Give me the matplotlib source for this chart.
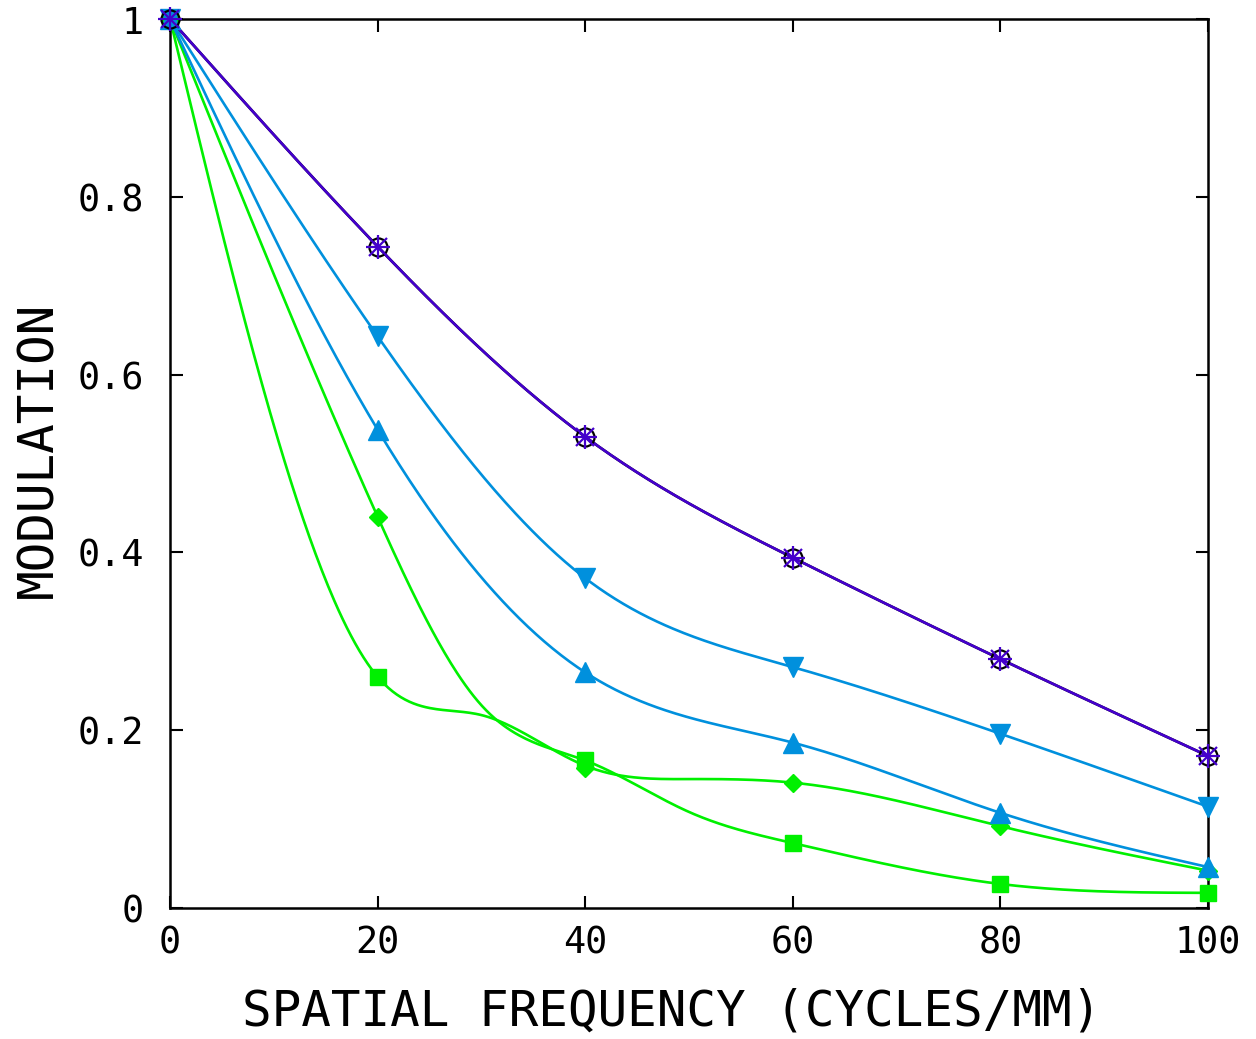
import numpy as np
import matplotlib
matplotlib.use("Agg")
import matplotlib.pyplot as plt

# spatial frequency (cycles/mm)
freq = [0, 20, 40, 60, 80, 100]

# modulation values
top_black = [1.0, 0.744, 0.530, 0.394, 0.280, 0.171]
top_purple = [1.0, 0.744, 0.530, 0.394, 0.280, 0.171]
blue_down = [1.0, 0.643, 0.371, 0.271, 0.196, 0.114]
blue_up = [1.0, 0.538, 0.265, 0.186, 0.107, 0.046]

# green markers
green_squares = [1.0, 0.260, 0.166, 0.073, 0.027, 0.017]
green_diamonds = [1.0, 0.440, 0.157, 0.141, 0.092, 0.042]

# the two green lines have extra knots between the marker positions
green_freq = [0, 20, 30, 40, 50, 60, 80, 100]
green_line_a = [1.0, 0.260, 0.217, 0.160, 0.145, 0.141, 0.092, 0.042]
green_line_b = [1.0, 0.440, 0.228, 0.166, 0.108, 0.073, 0.027, 0.017]

PURPLE = "#4400cc"
BLUE = "#0090dd"
GREEN = "#00f000"


def natural_spline(x, y, n=500):
    # natural cubic spline, same idea as gnuplot "smooth csplines"
    x = np.asarray(x, float)
    y = np.asarray(y, float)
    k = len(x)
    h = np.diff(x)
    A = np.zeros((k, k))
    b = np.zeros(k)
    A[0, 0] = 1
    A[-1, -1] = 1
    for i in range(1, k - 1):
        A[i, i - 1] = h[i - 1]
        A[i, i] = 2 * (h[i - 1] + h[i])
        A[i, i + 1] = h[i]
        b[i] = 6 * ((y[i + 1] - y[i]) / h[i] - (y[i] - y[i - 1]) / h[i - 1])
    m = np.linalg.solve(A, b)
    xs = np.linspace(x[0], x[-1], n)
    idx = np.clip(np.searchsorted(x, xs) - 1, 0, k - 2)
    x0, x1 = x[idx], x[idx + 1]
    hh = x1 - x0
    t0 = x1 - xs
    t1 = xs - x0
    ys = (m[idx] * t0 ** 3 + m[idx + 1] * t1 ** 3) / (6 * hh) \
        + (y[idx] / hh - m[idx] * hh / 6) * t0 \
        + (y[idx + 1] / hh - m[idx + 1] * hh / 6) * t1
    return xs, ys


plt.rcParams['font.family'] = ['DejaVu Sans Mono']

fig = plt.figure(figsize=(12.56, 10.39), dpi=100)
ax = fig.add_axes([0.1354, 0.1261, 0.8264, 0.8556])

lw = 1.9
for fx, vals, col in [(green_freq, green_line_a, GREEN),
                      (green_freq, green_line_b, GREEN),
                      (freq, blue_up, BLUE), (freq, blue_down, BLUE),
                      (freq, top_black, "black"), (freq, top_purple, PURPLE)]:
    xs, ys = natural_spline(fx, vals)
    ax.plot(xs, ys, color=col, lw=lw, solid_capstyle='round', zorder=2)

# markers drawn unclipped so the ones on the frame show whole
ax.plot(freq, green_squares, 's', color=GREEN, ms=11, zorder=3, clip_on=False)
ax.plot(freq, green_diamonds, 'D', color=GREEN, ms=9.5, zorder=3, clip_on=False)
ax.plot(freq, blue_up, '^', color=BLUE, ms=15, zorder=3, clip_on=False)
ax.plot(freq, blue_down, 'v', color=BLUE, ms=15, zorder=3, clip_on=False)
ax.plot(freq, top_black, 'o', mfc='none', mec='black', mew=1.6, ms=13,
        zorder=4, clip_on=False)
ax.plot(freq, top_purple, '+', color=PURPLE, mew=1.6, ms=17, zorder=5,
        clip_on=False)
ax.plot(freq, top_purple, 'x', color=PURPLE, mew=1.6, ms=13, zorder=5,
        clip_on=False)

ax.set_xlim(0, 100)
ax.set_ylim(0, 1)
ax.set_xticks(freq)
ax.set_xticklabels(["0", "20", "40", "60", "80", "100"])
ax.set_yticks([0, 0.2, 0.4, 0.6, 0.8, 1])
ax.set_yticklabels(["0", "0.2", "0.4", "0.6", "0.8", "1"])
ax.tick_params(direction='in', length=9, width=1.5, top=True, right=True,
               labelsize=26.5)
ax.tick_params(axis='x', pad=12)
ax.tick_params(axis='y', pad=19)
for s in ax.spines.values():
    s.set_linewidth(1.8)
    s.set_zorder(2.5)

ax.set_xlabel("SPATIAL FREQUENCY (CYCLES/MM)", fontsize=35.5)
ax.set_ylabel("MODULATION", fontsize=35.5)
ax.xaxis.set_label_coords(0.4836, -0.090)
ax.yaxis.set_label_coords(-0.104, 0.515)

fig.savefig("out.png", dpi=100)
